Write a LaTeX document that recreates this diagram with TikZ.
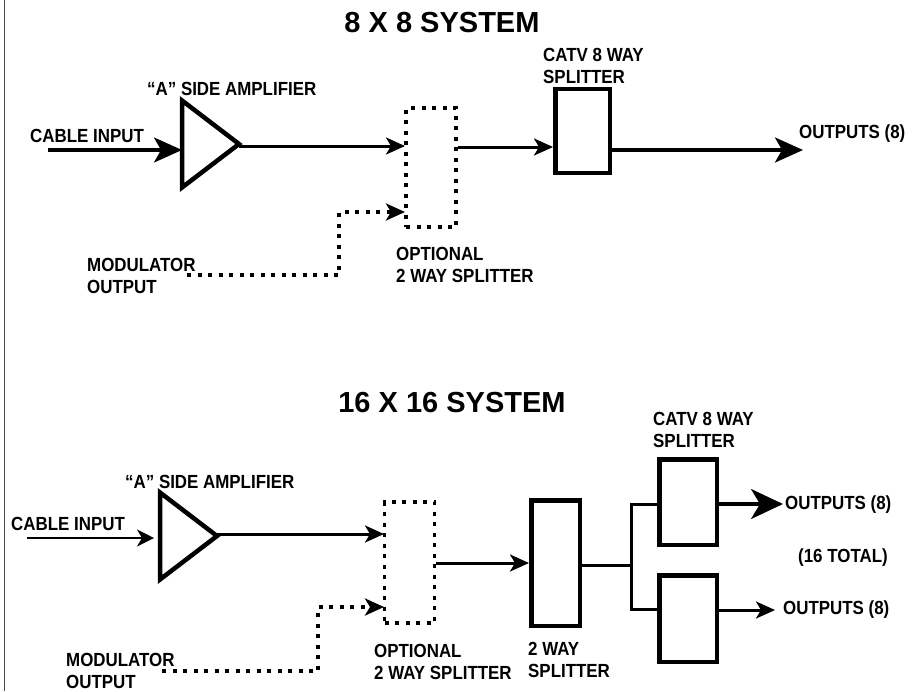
\documentclass[tikz,border=0pt]{standalone}
\usepackage{fontspec}
\setmainfont[FakeStretch=0.89]{Liberation Sans}
\newfontfamily\titlefont{Liberation Sans}
\usetikzlibrary{arrows.meta, positioning, calc, shapes.geometric}
\begin{document}
\begin{tikzpicture}[x=1pt, y=-1pt, font=\fontsize{19}{22}\selectfont\bfseries, align=left,
    box/.style={draw, line width=4.5pt, inner sep=0pt},
    optbox/.style={draw, line width=3.5pt, dash pattern=on 4pt off 6.5pt, inner sep=0pt},
    amp/.style={draw, line width=4.5pt, isosceles triangle, isosceles triangle stretches, inner sep=0pt, outer sep=0pt, minimum width=87pt, minimum height=57pt, anchor=apex},
    lbl/.style={inner sep=0pt, anchor=west},
    titletext/.style={inner sep=0pt, font=\titlefont\fontsize{29}{31}\selectfont\bfseries},
    wire/.style={line width=3pt},
    arrow/.style={-{Stealth[length=19pt,width=17pt,inset=5pt]}, line width=3pt},
    bigarrow/.style={-{Stealth[length=28pt,width=25pt,inset=7pt]}, line width=3.2pt},
    dotarrow/.style={-{Stealth[length=19pt,width=17pt,inset=5pt]}, line width=3.5pt, dash pattern=on 4pt off 6.5pt}
]
    \useasboundingbox (0,0) rectangle (913,691);
    \draw[line width=1.5pt, black!70] (4.5,0) -- (4.5,691);

    % 8 x 8
    \node[titletext] (title8) at (442,23) {8 X 8 SYSTEM};
    \node[lbl] (amplabel8) at (147,89) {``A'' SIDE AMPLIFIER};
    \node[lbl] (cable8) at (30,136) {CABLE INPUT};
    \node[amp] (amp8) at (239,144) {};
    \node[optbox, minimum width=50pt, minimum height=119pt] (opt8) at (431,167.5) {};
    \node[box, minimum width=54.5pt, minimum height=84pt] (split8) at (582.5,131) {};
    \node[lbl] (catv8) at (543,65.5) {CATV 8 WAY\\SPLITTER};
    \node[lbl] (out8) at (799,134) {OUTPUTS (8)};
    \node[lbl] (mod8) at (87,275.5) {MODULATOR\\OUTPUT};
    \node[lbl] (opttext8) at (396,265) {OPTIONAL\\2 WAY SPLITTER};
    \coordinate (cablein8) at (48,150);
    \coordinate (opt8in) at (405,146);
    \coordinate (split8in) at (553,147);
    \coordinate (outend8) at (803,150);
    \coordinate (modstart8) at (187,275);
    \coordinate (modin8) at (405,212);
    \draw[bigarrow] (cablein8) -- (cablein8 -| amp8.lower side);
    \draw[arrow] (amp8.apex |- opt8in) -- (opt8in);
    \draw[arrow] (opt8.east |- split8in) -- (split8in);
    \draw[bigarrow] (split8.east |- outend8) -- (outend8);
    \draw[dotarrow] (modstart8) -| (339,212) -- (modin8);

    % 16 x 16
    \node[titletext] (title16) at (452,403) {16 X 16 SYSTEM};
    \node[lbl] (amplabel16) at (125,482) {``A'' SIDE AMPLIFIER};
    \node[lbl] (cable16) at (11,524) {CABLE INPUT};
    \node[amp] (amp16) at (217,536) {};
    \node[optbox, minimum width=50pt, minimum height=121pt] (opt16) at (409.5,562.5) {};
    \node[box, minimum width=48.5pt, minimum height=125.5pt] (split2) at (555.5,563) {};
    \node[box, minimum width=57.5pt, minimum height=85.5pt] (splita) at (688,502) {};
    \node[box, minimum width=57.5pt, minimum height=86.5pt] (splitb) at (688,618.5) {};
    \node[lbl] (catv16) at (653,429.5) {CATV 8 WAY\\SPLITTER};
    \node[lbl] (outa) at (785,505) {OUTPUTS (8)};
    \node[lbl] (total) at (798,558) {(16 TOTAL)};
    \node[lbl] (outb) at (783,610) {OUTPUTS (8)};
    \node[lbl] (mod16) at (66,670.5) {MODULATOR\\OUTPUT};
    \node[lbl] (opttext16) at (374,661.5) {OPTIONAL\\2 WAY SPLITTER};
    \node[lbl] (two) at (528,660) {2 WAY\\SPLITTER};
    \coordinate (cablein16) at (27,538);
    \coordinate (opt16in) at (384,534);
    \coordinate (modstart16) at (162,671);
    \coordinate (modin16) at (384,607);
    \coordinate (branch) at (631,565);
    \coordinate (outaend) at (783,504);
    \coordinate (outbend) at (775,610);
    \draw[-{Stealth[length=17pt,width=17pt,inset=5pt]}, line width=2pt] (cablein16) -- (154,538);
    \draw[arrow] (amp16.apex |- opt16in) -- (opt16in);
    \draw[arrow] (opt16.east |- split2) -- (split2.west);
    \draw[wire] (split2.east |- branch) -- (branch);
    \draw[wire] (splita.west |- 0,504) -| (branch) |- (splitb.west |- 0,609);
    \draw[bigarrow, -{Stealth[length=32pt,width=30pt,inset=9pt]}] (splita.east |- outaend) -- (outaend);
    \draw[arrow] (splitb.east |- outbend) -- (outbend);
    \draw[dotarrow] (modstart16) -| (318,607) -- (modin16);
\end{tikzpicture}
\end{document}
